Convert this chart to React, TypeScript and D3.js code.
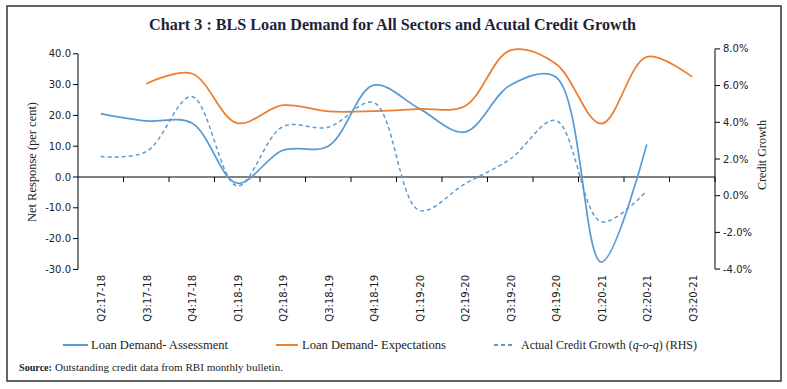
import React from "react";
import * as d3 from "d3";

const categories = [
  "Q2:17-18", "Q3:17-18", "Q4:17-18", "Q1:18-19", "Q2:18-19", "Q3:18-19", "Q4:18-19",
  "Q1:19-20", "Q2:19-20", "Q3:19-20", "Q4:19-20", "Q1:20-21", "Q2:20-21", "Q3:20-21",
];
const assessment: (number | null)[] = [20.6, 18.2, 17.5, -2.0, 8.7, 10.0, 29.8, 22.2, 14.6, 29.8, 32.5, -27.6, 10.6, null];
const expectations: (number | null)[] = [null, 30.3, 33.6, 17.5, 23.3, 21.3, 21.4, 22.1, 23.0, 41.1, 36.8, 17.3, 39.0, 32.5];
const creditGrowth: (number | null)[] = [2.13, 2.4, 5.4, 0.53, 3.76, 3.73, 5.07, -0.8, 0.64, 2.0, 4.1, -1.42, 0.27, null];
const leftTicks = [-30, -20, -10, 0, 10, 20, 30, 40];
const rightTicks = [-4, -2, 0, 2, 4, 6, 8];

const BLUE = "#5B9BD5";
const ORANGE = "#ED7D31";
const SERIF = "'Liberation Serif', 'Times New Roman', serif";
const SANS = "'DejaVu Sans', Verdana, sans-serif";

export default function App() {
  const x = d3.scaleBand<string>().domain(categories).range([78, 715]);
  const yL = d3.scaleLinear().domain([-30, 40]).range([269.4, 53.8]);
  const yR = d3.scaleLinear().domain([-4, 8]).range([269.1, 48.9]);
  const cx = (i: number) => (x(categories[i]) as number) + x.bandwidth() / 2;

  const mkLine = (vals: (number | null)[], y: d3.ScaleLinear<number, number>) => {
    const pts = vals.map((v, i) => ({ v, i })).filter((d) => d.v !== null) as { v: number; i: number }[];
    return d3
      .line<{ v: number; i: number }>()
      .x((d) => cx(d.i))
      .y((d) => y(d.v))
      .curve(d3.curveCatmullRom.alpha(0.5))(pts) as string;
  };

  const y0 = yL(0);
  const boundaries = d3.range(1, categories.length + 1).map((k) => 78 + k * x.bandwidth());

  return (
    <svg width={787} height={389} style={{ position: "absolute", left: 0, top: 0, background: "#fff" }}>
      <rect x={7} y={6} width={774} height={375} fill="#fff" stroke="#333" strokeWidth={1.5} />
      <text x={149} y={30} fontFamily={SERIF} fontWeight="bold" fontSize={17} fill="#1f1f3a" textLength={487} lengthAdjust="spacingAndGlyphs">
        Chart 3 : BLS Loan Demand for All Sectors and Acutal Credit Growth
      </text>

      {/* left axis */}
      <line x1={78} x2={78} y1={yL(-30)} y2={yL(40)} stroke="#000" />
      {leftTicks.map((t) => (
        <g key={"l" + t}>
          <line x1={73} x2={78} y1={yL(t)} y2={yL(t)} stroke="#000" />
          <text x={71} y={yL(t)} dy="0.35em" textAnchor="end" fontFamily={SANS} fontSize={10} fill="#222">
            {t.toFixed(1)}
          </text>
        </g>
      ))}
      <text transform={`translate(32,162) rotate(-90)`} textAnchor="middle" dy="0.35em" fontFamily={SERIF} fontSize={12.5} fill="#222" textLength={120} lengthAdjust="spacingAndGlyphs">
        Net Response (per cent)
      </text>

      {/* right axis */}
      <line x1={715} x2={715} y1={yR(-4)} y2={yR(8)} stroke="#000" />
      {rightTicks.map((t) => (
        <g key={"r" + t}>
          <line x1={715} x2={720} y1={yR(t)} y2={yR(t)} stroke="#000" />
          <text x={723} y={yR(t)} dy="0.35em" textAnchor="start" fontFamily={SANS} fontSize={10} fill="#222">
            {t.toFixed(1) + "%"}
          </text>
        </g>
      ))}
      <text transform={`translate(762,155) rotate(-90)`} textAnchor="middle" dy="0.35em" fontFamily={SERIF} fontSize={12.5} fill="#222" textLength={70} lengthAdjust="spacingAndGlyphs">
        Credit Growth
      </text>

      {/* x axis */}
      <line x1={78} x2={715} y1={y0} y2={y0} stroke="#000" />
      {boundaries.map((b, k) => (
        <line key={"b" + k} x1={b} x2={b} y1={y0} y2={y0 + 5} stroke="#000" />
      ))}
      {categories.map((c, i) => (
        <text key={c} transform={`translate(${cx(i) + 1},275) rotate(-90)`} textAnchor="end" dy="0.35em" fontFamily={SANS} fontSize={10} fill="#222">
          {c}
        </text>
      ))}

      {/* series */}
      <path d={mkLine(assessment, yL)} fill="none" stroke={BLUE} strokeWidth={1.75} />
      <path d={mkLine(expectations, yL)} fill="none" stroke={ORANGE} strokeWidth={1.75} />
      <path d={mkLine(creditGrowth, yR)} fill="none" stroke={BLUE} strokeWidth={1.5} strokeDasharray="4,3" />

      {/* legend */}
      <line x1={63} x2={88} y1={345} y2={345} stroke={BLUE} strokeWidth={2} />
      <text x={91} y={349} fontFamily={SERIF} fontSize={13.5} fill="#222" textLength={137} lengthAdjust="spacingAndGlyphs">Loan Demand- Assessment</text>
      <line x1={276} x2={298} y1={345} y2={345} stroke={ORANGE} strokeWidth={2} />
      <text x={302} y={349} fontFamily={SERIF} fontSize={13.5} fill="#222" textLength={144} lengthAdjust="spacingAndGlyphs">Loan Demand- Expectations</text>
      <line x1={494} x2={515} y1={345} y2={345} stroke={BLUE} strokeWidth={2} strokeDasharray="4,3" />
      <text x={521} y={349} fontFamily={SERIF} fontSize={12} fill="#222">
        Actual Credit Growth (<tspan fontStyle="italic">q-o-q</tspan>) (RHS)
      </text>

      {/* source */}
      <text x={19} y={371} fontFamily={SERIF} fontSize={11} fontWeight="bold" fill="#222" textLength={33} lengthAdjust="spacingAndGlyphs">Source:</text>
      <text x={55} y={371} fontFamily={SERIF} fontSize={11} fill="#222" textLength={228} lengthAdjust="spacingAndGlyphs">Outstanding credit data from RBI monthly bulletin.</text>
    </svg>
  );
}
